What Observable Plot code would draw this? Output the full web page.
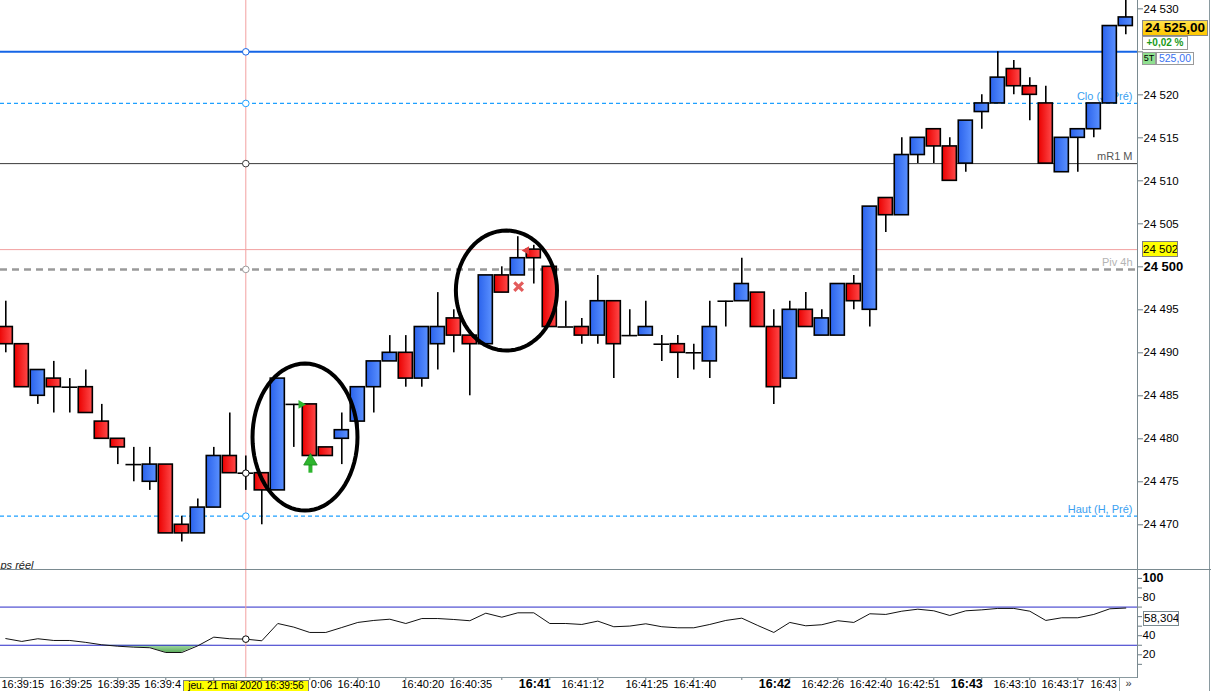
<!DOCTYPE html>
<html><head><meta charset="utf-8">
<script src="https://cdn.jsdelivr.net/npm/d3@7"></script>
<script src="https://cdn.jsdelivr.net/npm/@observablehq/plot@0.6"></script>
<style>
body{margin:0;background:#fff;font-family:"Liberation Sans",Arial,sans-serif}
#wrap{position:relative;width:1211px;height:691px;overflow:hidden;background:#fff}
#wrap svg{position:absolute;left:0;overflow:hidden}
.ov{position:absolute;box-sizing:border-box;white-space:nowrap;text-align:center;overflow:hidden;font-family:"Liberation Sans",Arial,sans-serif}
</style></head><body><div id="wrap"></div>
<script>
// ---- data ----
const opens  = [24493,24491,24485,24487,24486,24486,24482,24480,24477,24475,
                24477,24470,24469,24472,24478,24476,24476,24474,24484,24484,
                24479,24480,24482,24486,24489,24490,24487,24491,24494,24492,
                24491,24499,24499,24502,24500,24493,24493,24492,24496,24492,
                24492,24491,24491,24490,24489,24496,24496,24497,24493,24487,
                24495,24492,24492,24498,24495,24508,24506,24513,24516,24514,
                24512,24518,24519,24523,24521,24519,24511,24515,24516,24519,24528];
const highs  = [24496,24491,24488,24489,24487,24488,24484,24480,24479,24479,
                24477,24471,24473,24479,24483,24478,24476,24487,24484,24484,
                24479,24483,24486,24489,24492,24492,24493,24497,24495,24492,
                24499,24500,24503.5,24502.5,24500,24496,24494,24499,24496,24495,
                24496,24492,24492,24491,24496,24496,24501,24497,24495,24496,
                24497,24495,24498,24499,24507,24508,24515,24515,24516,24515,
                24517,24520,24525,24524,24522,24521,24515,24516,24519,24528,24532];
const lows   = [24490,24486,24484,24483,24483,24483,24480,24477,24475,24474,
                24469,24468,24469,24472,24476,24474,24470,24474,24479,24478,
                24478,24477,24479,24483,24489,24486,24486,24488,24490,24485,
                24491,24497,24499,24498,24493,24493,24491,24491,24487,24492,
                24492,24489,24487,24488,24487,24493,24496,24493,24484,24487,
                24493,24492,24492,24495,24493,24504,24506,24512,24512,24510,
                24511,24516,24519,24520,24517,24512,24511,24511,24515,24519,24527];
const closes = [24491,24486,24488,24486,24486,24483,24480,24479,24477,24477,
                24469,24469,24472,24478,24476,24476,24474,24487,24484,24478,
                24478,24481,24486,24489,24490,24487,24493,24493,24492,24491,
                24499,24497,24501,24501,24493,24493,24492,24496,24491,24492,
                24493,24491,24490,24490,24493,24496,24498,24493,24486,24495,
                24493,24494,24498,24496,24507,24506,24513,24515,24514,24510,
                24517,24519,24522,24521,24520,24512,24515,24516,24519,24528,24529];
const rsiValues = [37,34,36.8,35,35,33,30.5,29,28,27.4,
                   22.4,22.4,29.4,38.5,36.8,36.4,34.7,52.8,49,43.4,
                   43.4,48.6,53.9,56,57.3,52.8,58,58,57,55.7,
                   63.6,59.4,64,64,52.8,52.8,51.8,55.3,49.4,50.1,
                   52.5,49.4,48.3,48.3,51.8,56,58.4,50.7,43.4,53.9,
                   50.4,51.5,55.7,53.9,63,62.3,65.7,67.8,66.1,61.2,
                   66.1,67.1,68.6,68.6,65.7,56,58.8,58.8,62.3,68.2,69];
const levelValues = [24525, 24519, 24512, 24499.7, 24471];
const levelNames  = ["", "Clo (J, Pré)", "mR1 M", "Piv 4h", "Haut (H, Pré)"];
const crossIndex = 15, crossPrice = 24502;
const priceTicks = [24470,24475,24480,24485,24490,24495,24505,24510,24515,24520,24525,24530];
const hiddenPriceTicks = [24525];
const boldPriceTick = [24500];
const rsiTicks = [10,20,30,40,50,60,70,80,90,100];
const rsiLabelTicks = [20,40,80];
const rsiBands = [30,70];
const timeTickIdx = [1,4,7,10,13,16,19,22,25,28,31,34,37,40,43,46,49,52,55,58,61,64,67,70];
const timeIdx  = [1,4,7,22,26,29,36,40,43,51,54,57,63,66];
const timeText = ["16:39:15","16:39:25","16:39:35","16:40:10","16:40:20","16:40:35","16:41:12","16:41:25","16:41:40","16:42:26","16:42:40","16:42:51","16:43:10","16:43:17"];
// labels partly hidden by the crosshair date box / scroll button: only visible part
const leftCutIdx = 10.95, leftCutText = "16:39:4";
const rightCutIdx = 19.06, rightCutText = "0:06";
const lastTimeIdx = 67.8, lastTimeText = "16:43";
const minuteIdx = [33,48,60];
const minuteText = ["16:41","16:42","16:43"];
// annotations (index, price, radius in index units, radius in price units)
const ellipseK = [18.7, 31.29], ellipseP = [24480.2, 24497.24], ellipseRK = [3.28, 3.16], ellipseRP = [8.55, 6.98];
const buyArrow = {k: 19.04, head: 24477.4, tail: 24476.0};
const buyFlag = {k: 18.45, p: 24484};
const exitCross = {k: 32.05, p: 24497.7};
const exitFlag = {k: 32.55, p: 24501.9};

// ---- build tables ----
const candles = opens.map((o,i)=>({k:i, open:o, high:highs[i], low:lows[i], close:closes[i]}));
const rsiData = rsiValues.map((v,i)=>({k:i, v}));
const ellipsePts = [];
ellipseK.forEach((ck,j)=>{ for(let t=0;t<=72;t++){ const a=t/72*2*Math.PI; ellipsePts.push({id:j, k:ck+ellipseRK[j]*Math.cos(a), p:ellipseP[j]+ellipseRP[j]*Math.sin(a)}); } });
const fmt = v => hiddenPriceTicks.includes(v) ? "" : String(v).replace(/\B(?=(\d{3})+(?!\d))/g, " ");
const half = 0.44;
const levelStyle = [
  {stroke:"#1565e6", strokeWidth:2},
  {stroke:"#1ea0ff", strokeWidth:1.2, strokeDasharray:"4,3"},
  {stroke:"#3a3a3a", strokeWidth:1},
  {stroke:"#9a9a9a", strokeWidth:2.5, strokeDasharray:"7,5"},
  {stroke:"#1ea0ff", strokeWidth:1.2, strokeDasharray:"4,3"}
];
const levelText = ["", "#3aa0f0", "#555555", "#b4b4b4", "#3aa0f0"];
const xDomain = [-0.331, 70.731];
const font = '"Liberation Sans", Arial, sans-serif';

const main = Plot.plot({
  width:1211, height:569, marginLeft:0, marginRight:74, marginTop:0, marginBottom:0,
  style:{fontFamily:font, fontSize:"11px", color:"#000", background:"transparent"},
  x:{domain:xDomain, axis:null},
  y:{domain:[24464.8, 24530.97], axis:null},
  marks:[
    ...levelValues.map((v,i)=>Plot.ruleY([v], levelStyle[i])),
    Plot.ruleY([crossPrice], {stroke:"#f2a0a0", strokeWidth:1}),
    Plot.ruleX([crossIndex], {stroke:"#f2a0a0", strokeWidth:1}),
    ...levelValues.map((v,i)=>levelNames[i] ? Plot.text([levelNames[i]], {y:()=>v, text:d=>d, frameAnchor:"right", textAnchor:"end", dx:-5, dy:-7, fill:levelText[i], fontSize:11}) : null).filter(Boolean),
    Plot.text(["ps réel"], {text:d=>d, frameAnchor:"bottom-left", textAnchor:"start", lineAnchor:"bottom", dx:0, dy:-1, fontStyle:"italic", fontSize:11, fill:"#222"}),
    Plot.ruleX(candles, {x:"k", y1:"low", y2:"high", stroke:"#000", strokeWidth:1.6}),
    Plot.rect(candles.filter(d=>d.close>d.open), {x1:d=>d.k-half, x2:d=>d.k+half, y1:"open", y2:"close", fill:"url(#gBlue)", stroke:"#000", strokeWidth:1.6}),
    Plot.rect(candles.filter(d=>d.close<d.open), {x1:d=>d.k-half, x2:d=>d.k+half, y1:"open", y2:"close", fill:"url(#gRed)", stroke:"#000", strokeWidth:1.6}),
    Plot.ruleY(candles.filter(d=>d.close===d.open), {x1:d=>d.k-half-0.05, x2:d=>d.k+half+0.05, y:"close", stroke:"#000", strokeWidth:1.6}),
    Plot.line(ellipsePts, {x:"k", y:"p", z:"id", stroke:"#000", strokeWidth:4, curve:"linear-closed"}),
    Plot.ruleX([buyArrow], {x:"k", y1:"tail", y2:"head", stroke:"#2db52d", strokeWidth:4}),
    Plot.dot([buyArrow], {x:"k", y:"head", symbol:"triangle", r:5, fill:"#2db52d", stroke:"#1e8a1e", strokeWidth:0.8}),
    Plot.dot([buyFlag], {x:"k", y:"p", symbol:"triangle", rotate:90, r:3.2, fill:"#2db52d"}),
    Plot.dot([exitCross], {x:"k", y:"p", symbol:"times", r:4, stroke:"#e35b5b", strokeWidth:3.2}),
    Plot.dot([exitFlag], {x:"k", y:"p", symbol:"triangle", rotate:-90, r:3.2, fill:"#e04040"}),
    ...levelValues.map((v,i)=>Plot.dot([v], {x:()=>crossIndex, y:d=>d, r:3.3, fill:"#fff", stroke:levelStyle[i].stroke, strokeWidth:1})),
    Plot.dot([closes[crossIndex]], {x:()=>crossIndex, y:d=>d, r:3.3, fill:"#fff", stroke:"#000", strokeWidth:1}),
    Plot.axisY(priceTicks, {anchor:"right", label:null, tickSize:5, tickPadding:1, tickFormat:fmt, fontSize:11.5, stroke:"#6c7c84", fill:"#000"}),
    Plot.axisY(boldPriceTick, {anchor:"right", label:null, tickSize:5, tickPadding:1, tickFormat:fmt, fontSize:13, fontWeight:"bold", stroke:"#6c7c84", fill:"#000"})
  ]
});
main.style.top = "0px";

const lower = Plot.plot({
  width:1211, height:122, marginLeft:0, marginRight:74, marginTop:0, marginBottom:14,
  style:{fontFamily:font, fontSize:"11px", color:"#000", background:"transparent"},
  x:{domain:xDomain, axis:null},
  y:{domain:[-3.8, 109.4], axis:null},
  marks:[
    Plot.areaY(rsiData, {x:"k", y1:rsiBands[0], y2:d=>Math.min(d.v, rsiBands[0]), fill:"url(#gGreen)"}),
    Plot.ruleY(rsiBands, {stroke:"#2a2ac8", strokeWidth:1}),
    Plot.ruleX([crossIndex], {stroke:"#f2a0a0", strokeWidth:1}),
    Plot.line(rsiData, {x:"k", y:"v", stroke:"#111", strokeWidth:1}),
    Plot.dot([rsiValues[crossIndex]], {x:()=>crossIndex, y:d=>d, r:3.3, fill:"#fff", stroke:"#000", strokeWidth:1}),
    Plot.axisY(rsiTicks, {anchor:"right", label:null, tickSize:4, tickPadding:1, tickFormat:d=>rsiLabelTicks.includes(d)?String(d):"", fontSize:11.5, stroke:"#6c7c84", fill:"#000"}),
    Plot.axisY([100], {anchor:"right", label:null, tickSize:4, tickPadding:1, fontSize:12.5, fontWeight:"bold", stroke:"#6c7c84", fill:"#000"}),
    Plot.axisX(timeTickIdx, {anchor:"bottom", label:null, tickSize:3, tickFormat:()=>"", stroke:"#6c7c84"}),
    Plot.text(timeIdx.map((k,i)=>({k, t:timeText[i]})), {x:"k", text:"t", frameAnchor:"bottom", dy:10.5, dx:1, fontSize:11, fill:"#000"}),
    Plot.text([{k:leftCutIdx, t:leftCutText}], {x:"k", text:"t", frameAnchor:"bottom", textAnchor:"end", dy:10.5, fontSize:11, fill:"#000"}),
    Plot.text([{k:rightCutIdx, t:rightCutText}], {x:"k", text:"t", frameAnchor:"bottom", textAnchor:"start", dy:10.5, fontSize:11, fill:"#000"}),
    Plot.text([{k:lastTimeIdx, t:lastTimeText}], {x:"k", text:"t", frameAnchor:"bottom", textAnchor:"start", dy:10.5, fontSize:10.5, fill:"#000"}),
    Plot.text(minuteIdx.map((k,i)=>({k, t:minuteText[i]})), {x:"k", text:"t", frameAnchor:"bottom", dy:10.5, dx:1, fontSize:12.5, fontWeight:"bold", fill:"#000"})
  ]
});
lower.style.top = "569px";

function addGrad(svg, id, c1, c2, vertical){
  let defs = d3.select(svg).select("defs");
  if (defs.empty()) defs = d3.select(svg).insert("defs", ":first-child");
  const g = defs.append("linearGradient").attr("id", id).attr("x1",0).attr("y1",0).attr("x2", vertical?0:1).attr("y2", vertical?1:0);
  g.append("stop").attr("offset","0").attr("stop-color",c1);
  g.append("stop").attr("offset","1").attr("stop-color",c2);
}
addGrad(main, "gBlue", "#2b63ec", "#5b91ff");
addGrad(main, "gRed", "#ea0000", "#ff4a4a");
addGrad(lower, "gGreen", "#a6dca6", "#5fae5f", true);

const wrap = document.getElementById("wrap");
wrap.appendChild(main);
wrap.appendChild(lower);

function ov(left, top, w, h, html, css){
  const d = document.createElement("div");
  d.className = "ov";
  d.style.cssText += `left:${left}px;top:${top}px;width:${w}px;height:${h}px;` + (css||"");
  d.innerHTML = html;
  wrap.appendChild(d);
  return d;
}
// frame lines
ov(1137, 0, 1, 678, "", "background:#7a8a90");
ov(1209, 0, 1, 691, "", "background:#8a9aa0");
ov(0, 569, 1211, 1, "", "background:#7a8a90");
ov(0, 677, 1137, 1, "", "background:#8a9aa0");
// price boxes
ov(1142, 20, 66, 16, "24 525,00", "background:linear-gradient(#ffe24a,#ffc800);border:1px solid #8a8a8a;font-weight:bold;font-size:13.5px;line-height:14px;color:#000");
ov(1142, 36, 46, 14, "+0,02 %", "background:#fff;border:1px solid #9a9a9a;font-weight:bold;font-size:10px;line-height:12px;color:#1a9a1a");
ov(1142, 52, 14, 13, "5T", "background:#90e090;border:1px solid #9a9a9a;font-size:9px;line-height:11px;color:#000");
ov(1156, 52, 38, 13, "525,00", "background:#fff;border:1px solid #9a9a9a;font-size:10.5px;line-height:11px;color:#3a72f0");
ov(1142, 241, 36, 16, "24 502", "background:#ffff00;border:1px solid #808080;font-size:11.5px;line-height:14px;color:#000");
ov(1143, 611, 36, 15, "58,304", "background:#fff;border:1px solid #7a8a90;font-size:11.5px;line-height:13px;color:#000");
// time crosshair box and scroll button
ov(183, 680, 126, 12, "jeu. 21 mai 2020 16:39:56", "background:#ffff00;border:1px solid #808080;font-size:10.3px;line-height:10px;letter-spacing:-0.15px;color:#000");
ov(1119, 678, 18, 13, "»", "background:#fff;border-left:1px solid #9aa;font-size:11px;line-height:11px;color:#333;overflow:visible");
</script></body></html>
